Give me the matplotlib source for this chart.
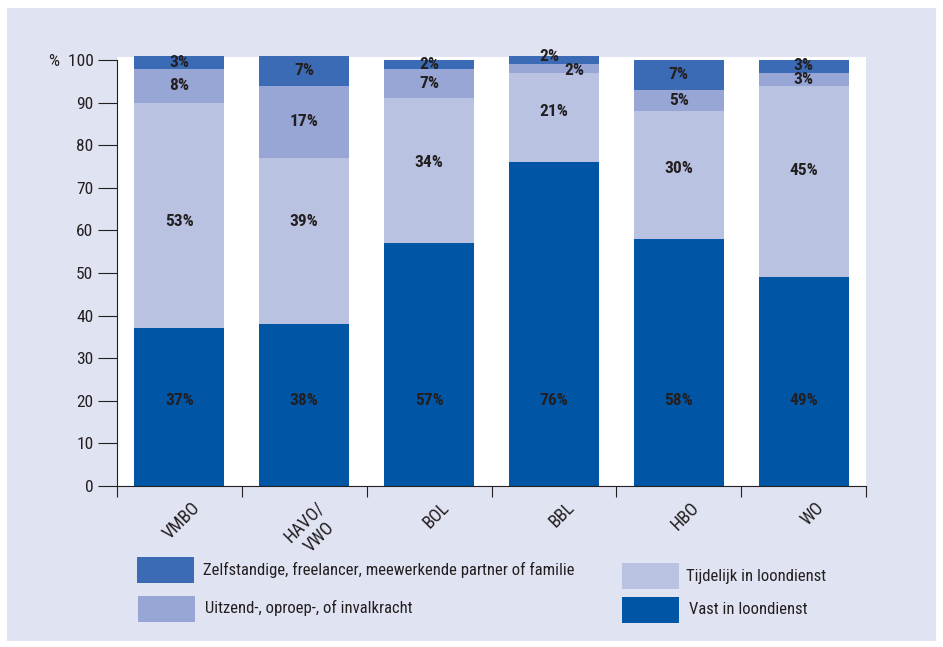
import matplotlib.pyplot as plt
from matplotlib.patches import Rectangle
import numpy as np

# data
categories = ["VMBO", "HAVO/\nVWO", "BOL", "BBL", "HBO", "WO"]
series_names = ["Vast in loondienst", "Tijdelijk in loondienst",
                "Uitzend-, oproep-, of invalkracht",
                "Zelfstandige, freelancer, meewerkende partner of familie"]
vast = [37, 38, 57, 76, 58, 49]
tijdelijk = [53, 39, 34, 21, 30, 45]
uitzend = [8, 17, 7, 2, 5, 3]
zelfstandig = [3, 7, 2, 2, 7, 3]
colors = ["#0055a5", "#b9c2e1", "#97a6d5", "#3c6bb5"]

plt.rcParams['font.family'] = ["Roboto Condensed", "DejaVu Sans"]
plt.rcParams['font.stretch'] = "condensed"
TXT = "#231f20"
BG = "#e0e3f2"

W, H = 943, 647
fig = plt.figure(figsize=(W / 100, H / 100), dpi=100)
fig.patch.set_facecolor("white")
fig.patches.append(Rectangle((7 / W, 1 - 641 / H), 929 / W, 633 / H,
                             transform=fig.transFigure, facecolor=BG,
                             edgecolor="none", zorder=-10))

# axes in pixel coords
x0, x1, y0, y1 = 117, 866, 486, 57
ax = fig.add_axes([x0 / W, 1 - y0 / H, (x1 - x0) / W, (y0 - y1) / H])
ax.set_zorder(5)
ax.set_facecolor("white")

series = [vast, tijdelijk, uitzend, zelfstandig]
x = np.arange(len(categories))
bottom = np.zeros(len(categories))
# label placement tweaks: (series index, category index) -> (dx, dy)
nudges = {(1, 0): (0, -1.3), (1, 1): (0, 4.7), (1, 2): (0, 2), (1, 3): (0, 1.3),
          (1, 4): (0, 1.6), (1, 5): (0, 2.5),
          (2, 3): (0.16, -0.4), (3, 3): (-0.04, 0.7), (3, 5): (0.0, 0.3)}
for si, vals in enumerate(series):
    vals = np.array(vals, dtype=float)
    bars = ax.bar(x, vals, bottom=bottom, width=0.72, color=colors[si], zorder=2)
    for b in bars:
        b.set_clip_on(False)
    for ci, v in enumerate(vals):
        dx, dy = nudges.get((si, ci), (0, 0))
        ly = 20 if si == 0 else bottom[ci] + v / 2
        ax.text(x[ci] + dx, ly + dy, f"{int(v)}%", ha="center", va="center",
                fontsize=12.5, fontweight="bold", color=TXT, zorder=3)
    bottom += vals

ax.set_xlim(-0.5, len(categories) - 0.5)
ax.set_ylim(0, 100.7)
for s in ["top", "right"]:
    ax.spines[s].set_visible(False)
ax.spines["left"].set_bounds(0, 100)
ax.spines["left"].set_color(TXT)
ax.spines["bottom"].set_color(TXT)
ax.set_yticks(range(0, 101, 10))
ax.set_yticklabels([str(t) for t in range(0, 100, 10)] + ["%  100"])
ax.tick_params(axis="y", length=14, color=TXT, labelsize=12.5, labelcolor=TXT, pad=3)

ax.set_xticks(np.arange(len(categories) + 1) - 0.5)
ax.set_xticklabels([])
ax.tick_params(axis="x", length=8, color=TXT)
for ci, name in enumerate(categories):
    ax.text(x[ci] + 0.09, -3.0, name, rotation=45, ha="right", va="top", fontsize=13,
            color=TXT, rotation_mode="anchor", multialignment="center")

# legend
leg_pos = [(622, 597, 689, 609), (622, 563, 686, 576), (138, 596, 205, 608), (137, 557, 203, 570)]
for si, (px, py, tx, ty) in enumerate(leg_pos):
    fig.patches.append(Rectangle((px / W, 1 - (py + 26) / H), 57 / W, 26 / H,
                                 transform=fig.transFigure, facecolor=colors[si],
                                 edgecolor="none", zorder=1))
    fig.text(tx / W, 1 - ty / H, series_names[si], ha="left", va="center",
             fontsize=12, color=TXT)

plt.savefig("out.png", dpi=100, facecolor=fig.get_facecolor())
